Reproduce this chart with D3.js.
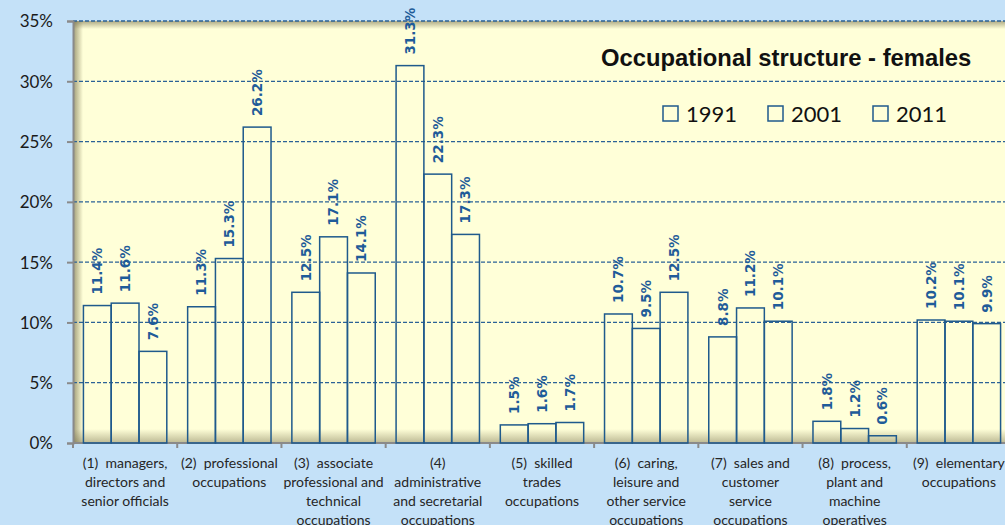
<!DOCTYPE html>
<html lang="en">
<head>
  <meta charset="UTF-8">
  <title>Occupational structure - females</title>
  <script src="https://d3js.org/d3.v7.min.js"></script>
  <style>
    body { margin: 0; padding: 0; background: #c4e1f8; }
    svg { display: block; }
    .ylab { font-family: Lato, sans-serif; font-size: 17px; fill: #1a1a1a; }
    .xlab { font-family: Lato, sans-serif; font-size: 14px; fill: #262626; }
    .val { font-family: "DejaVu Sans", sans-serif; font-weight: bold; font-size: 13.5px; fill: #1f5c99; }
    .title { font-family: "Liberation Sans", Arial, sans-serif; font-weight: bold; font-size: 23.8px; fill: #111; }
    .leg { font-family: Lato, sans-serif; font-size: 22px; fill: #111; }
  </style>
</head>
<body>
  <svg id="chart"></svg>

  <script>
    const categories = [
      ['(1)  managers,', 'directors and', 'senior officials'],
      ['(2)  professional', 'occupations'],
      ['(3)  associate', 'professional and', 'technical', 'occupations'],
      ['(4)', 'administrative', 'and secretarial', 'occupations'],
      ['(5)  skilled', 'trades', 'occupations'],
      ['(6)  caring,', 'leisure and', 'other service', 'occupations'],
      ['(7)  sales and', 'customer', 'service', 'occupations'],
      ['(8)  process,', 'plant and', 'machine', 'operatives'],
      ['(9)  elementary', 'occupations']
    ];
    const years = ['1991', '2001', '2011'];
    const v1991 = [11.4, 11.3, 12.5, 31.3, 1.5, 10.7, 8.8, 1.8, 10.2];
    const v2001 = [11.6, 15.3, 17.1, 22.3, 1.6, 9.5, 11.2, 1.2, 10.1];
    const v2011 = [7.6, 26.2, 14.1, 17.3, 1.7, 12.5, 10.1, 0.6, 9.9];
    const yTicks = [0, 5, 10, 15, 20, 25, 30, 35];

    const series = [v1991, v2001, v2011];
    const width = 1005, height = 525;
    const pLeft = 73, pTop = 21, pBottom = 443, pRight = 1011;

    const svg = d3.select('#chart').attr('width', width).attr('height', height);
    const defs = svg.append('defs');

    function grad(id, x1, y1, x2, y2, op) {
      const g = defs.append('linearGradient').attr('id', id)
        .attr('x1', x1).attr('y1', y1).attr('x2', x2).attr('y2', y2);
      g.append('stop').attr('offset', '0%').attr('stop-color', '#6b6440').attr('stop-opacity', op);
      g.append('stop').attr('offset', '100%').attr('stop-color', '#6b6440').attr('stop-opacity', 0);
    }
    grad('shTop', 0, 0, 0, 1, 0.55);
    grad('shLeft', 0, 0, 1, 0, 0.65);
    grad('shBottom', 0, 1, 0, 0, 0.45);

    const x0 = d3.scaleBand().domain(d3.range(categories.length)).range([pLeft, pRight]);
    const x1 = d3.scaleBand().domain(d3.range(years.length)).range([0, x0.bandwidth()]).paddingOuter(0.375);
    const y = d3.scaleLinear().domain([0, 35]).range([pBottom, pTop]);

    // plot area
    svg.append('rect').attr('x', pLeft).attr('y', pTop).attr('width', pRight - pLeft).attr('height', pBottom - pTop)
      .attr('fill', '#ffffd8');
    svg.append('rect').attr('x', pLeft).attr('y', pTop).attr('width', pRight - pLeft).attr('height', 8).attr('fill', 'url(#shTop)');
    svg.append('rect').attr('x', pLeft).attr('y', pTop).attr('width', 10).attr('height', pBottom - pTop).attr('fill', 'url(#shLeft)');
    svg.append('rect').attr('x', pLeft).attr('y', pBottom - 14).attr('width', pRight - pLeft).attr('height', 14).attr('fill', 'url(#shBottom)');

    // gridlines
    svg.append('g').selectAll('line').data(yTicks.filter(d => d > 0)).enter().append('line')
      .attr('x1', pLeft).attr('x2', pRight)
      .attr('y1', d => y(d)).attr('y2', d => y(d))
      .attr('stroke', '#2b6296').attr('stroke-width', 1.3).attr('stroke-dasharray', '4,2');

    // axes
    const yAxis = d3.axisLeft(y).tickValues(yTicks).tickSize(6).tickFormat(d => d + '%');
    const ga = svg.append('g').attr('transform', `translate(${pLeft},0)`).call(yAxis);
    ga.select('.domain').attr('stroke', '#8a8a8a').attr('stroke-width', 2);
    ga.selectAll('.tick line').attr('stroke', '#8a8a8a').attr('stroke-width', 2);
    ga.selectAll('.tick text').attr('class', 'ylab').attr('x', -20).attr('dy', '0.35em');

    svg.append('line').attr('x1', pLeft).attr('x2', pRight).attr('y1', pBottom).attr('y2', pBottom)
      .attr('stroke', '#8a8a8a').attr('stroke-width', 2);
    svg.append('g').selectAll('line').data(d3.range(categories.length + 1)).enter().append('line')
      .attr('x1', i => pLeft + i * x0.step()).attr('x2', i => pLeft + i * x0.step())
      .attr('y1', pBottom).attr('y2', pBottom + 5)
      .attr('stroke', '#8a8a8a').attr('stroke-width', 2);

    // bars
    const groups = svg.append('g').selectAll('g').data(categories).enter().append('g')
      .attr('transform', (d, i) => `translate(${x0(i)},0)`);

    groups.each(function (d, i) {
      const g = d3.select(this);
      series.forEach((s, k) => {
        g.append('rect')
          .attr('x', x1(k)).attr('y', y(s[i]))
          .attr('width', x1.bandwidth()).attr('height', pBottom - y(s[i]))
          .attr('fill', 'none').attr('stroke', '#1f5a8c').attr('stroke-width', 1.5);
        const cx = x1(k) + x1.bandwidth() / 2;
        const cy = y(s[i]) - 11;
        g.append('text').attr('class', 'val')
          .attr('transform', `translate(${cx},${cy}) rotate(-90)`)
          .attr('dy', '0.36em')
          .text(s[i].toFixed(1) + '%');
      });
      g.append('text').attr('class', 'xlab').attr('text-anchor', 'middle')
        .selectAll('tspan').data(d).enter().append('tspan')
        .attr('x', x0.bandwidth() / 2)
        .attr('y', (t, j) => 468 + j * 19)
        .attr('xml:space', 'preserve')
        .text(t => t);
    });

    // title and legend
    svg.append('text').attr('class', 'title').attr('x', 601).attr('y', 66).text('Occupational structure - females');

    const leg = svg.append('g').selectAll('g').data(years).enter().append('g')
      .attr('transform', (d, i) => `translate(${663 + i * 105},106)`);
    leg.append('rect').attr('width', 15).attr('height', 15)
      .attr('fill', 'none').attr('stroke', '#1f5a8c').attr('stroke-width', 1.5);
    leg.append('text').attr('class', 'leg').attr('x', 23).attr('y', 16).text(d => d);
  </script>
</body>
</html>
